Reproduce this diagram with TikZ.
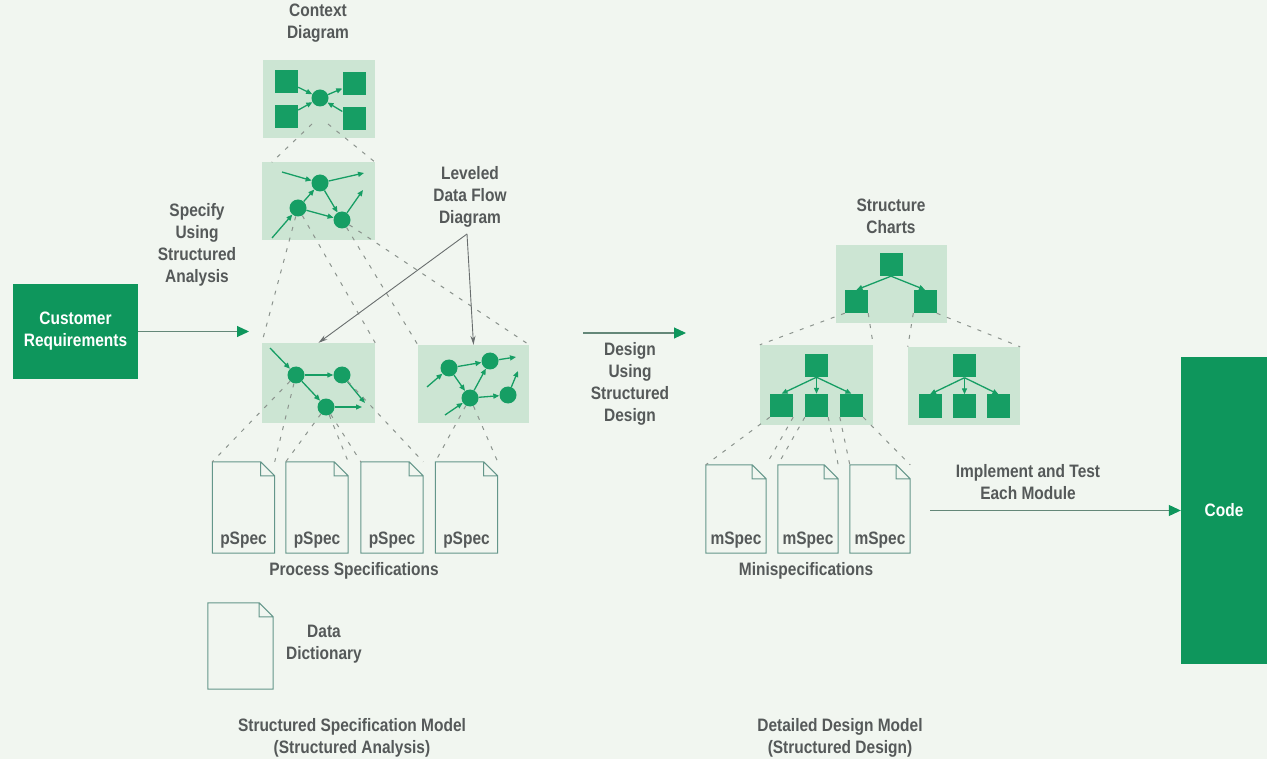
\documentclass[tikz,border=0pt]{standalone}
\usepackage{fontspec}
\setmainfont{Liberation Sans}[FakeStretch=0.86]
\usetikzlibrary{arrows.meta}
\definecolor{bg}{RGB}{241,246,240}
\definecolor{dkgreen}{RGB}{14,150,92}
\definecolor{ngreen}{RGB}{22,158,100}
\definecolor{panelc}{RGB}{204,229,211}
\definecolor{txtgray}{RGB}{85,89,89}
\definecolor{dashgray}{RGB}{140,148,142}
\definecolor{doclinec}{RGB}{100,150,138}
\definecolor{arrline}{RGB}{100,135,120}
\definecolor{ptrgray}{RGB}{105,110,110}
\newcommand\docoutline[1]{\draw[docln] (#1.south west) -- (#1.north west) -- ([xshift=-14pt]#1.north east) -- ([yshift=-14pt]#1.north east) -- (#1.south east) -- cycle ([xshift=-14pt]#1.north east) |- ([yshift=-14pt]#1.north east);}
\begin{document}
\begin{tikzpicture}[x=1pt,y=-1pt,
 lbl/.style={font=\fontsize{18}{22}\selectfont\bfseries, text=txtgray, align=center, inner sep=0pt},
 bigbox/.style={fill=dkgreen, draw=none, font=\fontsize{18}{22}\selectfont\bfseries, text=white, align=center, inner sep=0pt},
 panelbox/.style={fill=panelc, draw=none, inner sep=0pt},
 bub/.style={circle, fill=ngreen, minimum size=17pt, inner sep=0pt},
 sq/.style={rectangle, fill=ngreen, minimum size=23pt, inner sep=0pt},
 flow/.style={draw=ngreen, line width=1.3pt, -{Triangle[length=6pt,width=5pt]}},
 lvl/.style={draw=dashgray, line width=1pt, dash pattern=on 4pt off 7pt},
 mainarr/.style={draw=arrline, line width=1.1pt, -{Triangle[length=12pt,width=11pt,color=dkgreen]}},
 ptr/.style={draw=ptrgray, line width=0.9pt, -{Stealth[length=9pt,width=5pt]}},
 docln/.style={draw=doclinec, line width=1pt},
 docbox/.style={rectangle, draw=none, inner sep=0pt, minimum width=62pt, minimum height=91pt},
 doctxt/.style={font=\fontsize{18}{20}\selectfont\bfseries, text=txtgray, inner sep=0pt, anchor=south, yshift=5pt}
]
\fill[bg] (0,0) rectangle (1267,759);
\useasboundingbox (0,0) rectangle (1267,759);

% ---------- main boxes ----------
\node[bigbox, minimum width=125pt, minimum height=95pt] (cust) at (75.5,331.5) {Customer\\Requirements};
\node[bigbox, minimum width=86pt, minimum height=307pt] (code) at (1224,510.5) {Code};

% ---------- labels ----------
\node[lbl] (lctx) at (318,23.5) {Context\\Diagram};
\node[lbl] (lspec) at (197,244.5) {Specify\\Using\\Structured\\Analysis};
\node[lbl] (llev) at (470,197) {Leveled\\Data Flow\\Diagram};
\node[lbl] (ldes) at (630,383.5) {Design\\Using\\Structured\\Design};
\node[lbl] (lsc) at (891,216) {Structure\\Charts};
\node[lbl] (limp) at (1028,482) {Implement and Test\\Each Module};
\node[lbl] (lps) at (354,571) {Process Specifications};
\node[lbl] (lms) at (806,571) {Minispecifications};
\node[lbl] (ldd) at (324,644) {Data\\Dictionary};
\node[lbl] (lssm) at (352,737.5) {Structured Specification Model\\(Structured Analysis)};
\node[lbl] (lddm) at (840,737.5) {Detailed Design Model\\(Structured Design)};

% ---------- panels ----------
\node[panelbox, minimum width=112pt, minimum height=78pt] (ctx) at (319,99) {};
\node[panelbox, minimum width=113pt, minimum height=78pt] (p2) at (318.5,201.5) {};
\node[panelbox, minimum width=113pt, minimum height=80pt] (p3a) at (318.5,383) {};
\node[panelbox, minimum width=111pt, minimum height=78pt] (p3b) at (473.5,384) {};
\node[panelbox, minimum width=111pt, minimum height=78pt] (sc1) at (891,284) {};
\node[panelbox, minimum width=113pt, minimum height=80pt] (sc2) at (816.5,385) {};
\node[panelbox, minimum width=112pt, minimum height=78pt] (sc3) at (964,386) {};

% ---------- context diagram ----------
\node[sq] (ctl) at (286.5,81.5) {};
\node[sq] (cbl) at (286.5,116.5) {};
\node[sq] (ctr) at (354,83.5) {};
\node[sq] (cbr) at (354,118.5) {};
\node[bub] (cc) at (320,98) {};
\draw[flow] (ctl) -- (cc);
\draw[flow] (cc) -- (ctr);
\draw[flow] (cbl) -- (cc);
\draw[flow] (cbr) -- (cc);

% ---------- level-1 DFD ----------
\node[bub] (q1) at (320,183) {};
\node[bub] (q2) at (298,208) {};
\node[bub] (q3) at (342,220) {};
\coordinate (q1in) at (282,172);
\coordinate (q1out) at (364,173);
\coordinate (q3out) at (363,190);
\coordinate (q2in) at (272,238);
\draw[flow] (q1in) -- (q1);
\draw[flow] (q1) -- (q1out);
\draw[flow] (q1) -- (q3);
\draw[flow] (q2) -- (q1);
\draw[flow] (q2) -- (q3);
\draw[flow] (q3) -- (q3out);
\draw[flow] (q2in) -- (q2);

% ---------- level-2 DFD (a) ----------
\node[bub] (a1) at (296,375) {};
\node[bub] (a2) at (342,375) {};
\node[bub] (a3) at (326,407) {};
\coordinate (a1in) at (270,348);
\coordinate (a2out) at (365,403);
\coordinate (a3out) at (362,407);
\draw[flow] (a1in) -- (a1);
\draw[flow] (a1) -- (a2);
\draw[flow] (a1) -- (a3);
\draw[flow] (a2) -- (a2out);
\draw[flow] (a3) -- (a3out);

% ---------- level-2 DFD (b) ----------
\node[bub] (b1) at (449,368) {};
\node[bub] (b2) at (490,361) {};
\node[bub] (b3) at (470,398) {};
\node[bub] (b4) at (508,395) {};
\coordinate (b1in) at (427,387);
\coordinate (b3in) at (445,415);
\coordinate (b2out) at (516,357);
\coordinate (b4out) at (518,371);
\draw[flow] (b1in) -- (b1);
\draw[flow] (b1) -- (b2);
\draw[flow] (b1) -- (b3);
\draw[flow] (b3) -- (b2);
\draw[flow] (b2) -- (b2out);
\draw[flow] (b3) -- (b4);
\draw[flow] (b4) -- (b4out);
\draw[flow] (b3in) -- (b3);

% ---------- structure charts ----------
\node[sq] (s1t) at (891,264.5) {};
\node[sq] (s1l) at (856.5,301.5) {};
\node[sq] (s1r) at (925,301.5) {};
\draw[flow] (s1t.south) -- (s1l.north);
\draw[flow] (s1t.south) -- (s1r.north);

\node[sq] (s2t) at (816.5,365.5) {};
\node[sq] (s2a) at (781.5,405.5) {};
\node[sq] (s2b) at (816.5,405.5) {};
\node[sq] (s2c) at (851.5,405.5) {};
\draw[flow] (s2t.south) -- (s2a.north);
\draw[flow] (s2t.south) -- (s2b.north);
\draw[flow] (s2t.south) -- (s2c.north);

\node[sq] (s3t) at (964.5,366) {};
\node[sq] (s3a) at (930,406) {};
\node[sq] (s3b) at (964.5,406) {};
\node[sq] (s3c) at (998.5,406) {};
\draw[flow] (s3t.south) -- (s3a.north);
\draw[flow] (s3t.south) -- (s3b.north);
\draw[flow] (s3t.south) -- (s3c.north);

% ---------- documents ----------
\node[docbox, label={[doctxt]south:pSpec}] (d1) at (243.5,507.5) {};
\node[docbox, label={[doctxt]south:pSpec}] (d2) at (317,507.5) {};
\node[docbox, label={[doctxt]south:pSpec}] (d3) at (392,507.5) {};
\node[docbox, label={[doctxt]south:pSpec}] (d4) at (466.5,507.5) {};
\node[docbox, minimum width=65pt, minimum height=86pt] (dd) at (240.5,646) {};
\node[docbox, minimum width=60pt, minimum height=88pt, label={[doctxt]south:mSpec}] (m1) at (736,509) {};
\node[docbox, minimum width=60pt, minimum height=88pt, label={[doctxt]south:mSpec}] (m2) at (808,509) {};
\node[docbox, minimum width=60pt, minimum height=88pt, label={[doctxt]south:mSpec}] (m3) at (880,509) {};
\docoutline{d1}\docoutline{d2}\docoutline{d3}\docoutline{d4}
\docoutline{dd}
\docoutline{m1}\docoutline{m2}\docoutline{m3}

% ---------- leveling dashed lines ----------
\coordinate (ctxL) at (312,124);
\coordinate (ctxR) at (328,124);
\draw[lvl] (ctxL) -- ([xshift=10pt]p2.north west);
\draw[lvl] (ctxR) -- (p2.north east);
\draw[lvl] (q2) -- (p3a.north west);
\draw[lvl] (q2) -- (p3a.north east);
\draw[lvl] (q3) -- (p3b.north west);
\draw[lvl] (q3) -- (p3b.north east);
\draw[lvl] (a1) -- (d1.north west);
\draw[lvl] (a1) -- (d1.north east);
\draw[lvl] (a3) -- (d2.north west);
\draw[lvl] (a3) -- (d2.north east);
\draw[lvl] (a3) -- (d3.north west);
\draw[lvl] (a2) -- (d3.north east);
\draw[lvl] (b3) -- (d4.north west);
\draw[lvl] (b3) -- (d4.north east);
\draw[lvl] (s1l.south west) -- (sc2.north west);
\draw[lvl] (s1l.south east) -- (sc2.north east);
\draw[lvl] (s1r.south west) -- (sc3.north west);
\draw[lvl] (s1r.south east) -- (sc3.north east);
\draw[lvl] (s2a.south west) -- (m1.north west);
\draw[lvl] (s2a.south east) -- (m1.north east);
\draw[lvl] (s2b.south west) -- (m2.north west);
\draw[lvl] (s2b.south east) -- (m2.north east);
\draw[lvl] (s2c.south west) -- (m3.north west);
\draw[lvl] (s2c.south east) -- (m3.north east);

% ---------- pointers from "Leveled Data Flow Diagram" ----------
\coordinate (apex) at (467,234);
\draw[ptr] (apex) -- (p3a.north);
\draw[ptr] (apex) -- (p3b.north);

% ---------- main arrows ----------
\coordinate (saEnd) at (249,331.5);
\draw[mainarr] (cust.east) -- (saEnd);
\coordinate (dStart) at (583,333);
\coordinate (dEnd) at (686,333);
\draw[mainarr] (dStart) -- (dEnd);
\coordinate (impStart) at (930,510.5);
\draw[mainarr] (impStart) -- (code.west);
\end{tikzpicture}
\end{document}
